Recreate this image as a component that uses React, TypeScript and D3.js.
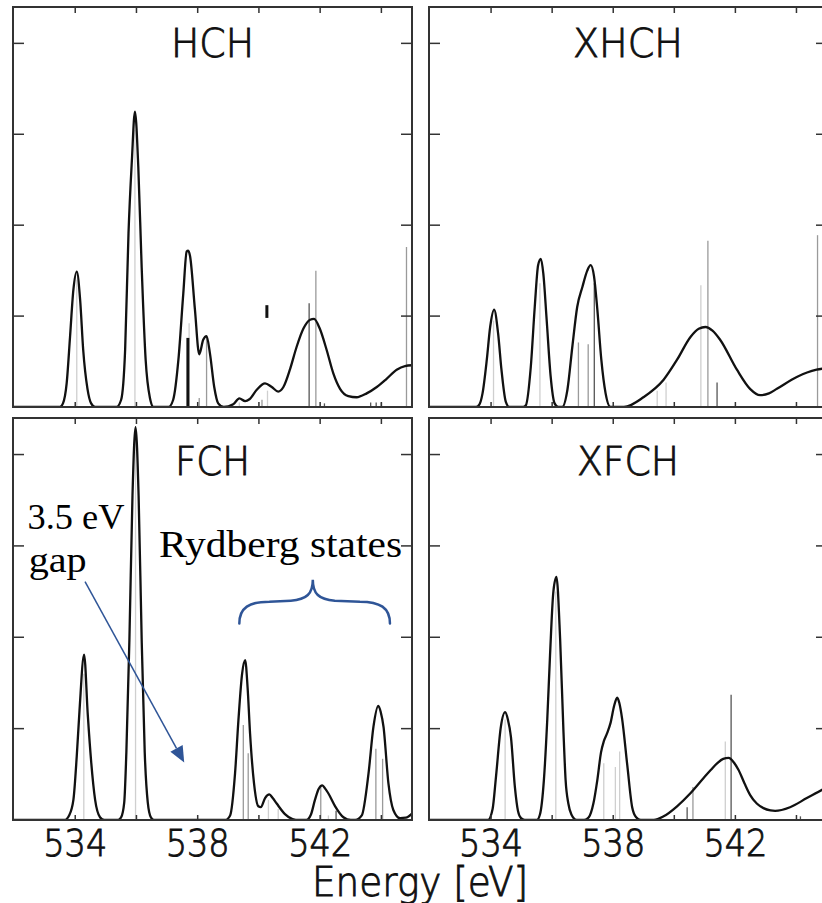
import React from 'react';
import * as d3 from 'd3';

// ---------- data ----------
const ENERGY_TICKS = [534, 536, 538, 540, 542, 544];
const ENERGY_LABELS = [534, 538, 542];
const INTENSITY_TICKS = [1, 2, 3, 4];
const PANEL_TITLES = ['HCH', 'XHCH', 'FCH', 'XFCH'];
const X_LABEL = 'Energy [eV]';

type Pt = [number, number];
type Stick = [number, number, string];

const HCH_CURVE: Pt[] = [
  [532.0, 0], [533.5, 0], [533.6, 0.04], [533.72, 0.26], [533.83, 0.77], [533.94, 1.29], [534.05, 1.49],
  [534.16, 1.18], [534.26, 0.63], [534.4, 0.2], [534.52, 0.04], [534.65, 0],
  [535.35, 0], [535.5, 0.08], [535.63, 0.63], [535.74, 1.91], [535.85, 2.71], [535.95, 3.25],
  [536.06, 2.64], [536.17, 1.54], [536.3, 0.52], [536.44, 0.1], [536.56, 0],
  [537.05, 0], [537.2, 0.08], [537.37, 0.52], [537.53, 1.25], [537.64, 1.71], [537.69, 1.72], [537.75, 1.66],
  [537.91, 1.07], [538.05, 0.58], [538.18, 0.74], [538.29, 0.78], [538.4, 0.59], [538.54, 0.22], [538.67, 0.04],
  [538.85, 0], [539.16, 0.03], [539.36, 0.095], [539.55, 0.065], [539.69, 0.085], [539.93, 0.19], [540.2, 0.26],
  [540.42, 0.22], [540.63, 0.17], [540.8, 0.22], [541.02, 0.42], [541.23, 0.66], [541.45, 0.86], [541.67, 0.96],
  [541.8, 0.97], [541.99, 0.86], [542.21, 0.63], [542.43, 0.37], [542.65, 0.2], [542.92, 0.12], [543.19, 0.107],
  [543.52, 0.15], [543.85, 0.22], [544.17, 0.31], [544.5, 0.41], [544.77, 0.45], [545.05, 0.46],
];
const HCH_STICKS: Stick[] = [
  [534.05, 1.4, 'light'], [535.95, 3.05, 'light'], [537.72, 0.92, 'light'], [537.68, 0.76, 'thick'],
  [538.05, 0.1, 'mid'], [538.29, 0.77, 'mid'], [539.36, 0.05, 'light'], [540.1, 0.08, 'mid'],
  [540.28, 0.18, 'light'], [541.64, 1.14, 'dark'], [541.86, 1.5, 'mid'], [542.14, 0.04, 'dark'],
  [543.65, 0.05, 'dark'], [543.83, 0.05, 'dark'], [544.0, 0.05, 'dark'], [544.82, 1.76, 'mid'],
];
const HCH_MARKS: [number, number, number][] = [[540.26, 0.98, 1.12]];

const XHCH_CURVE: Pt[] = [
  [532.0, 0], [533.5, 0], [533.62, 0.03], [533.72, 0.15], [533.86, 0.52], [533.97, 0.88], [534.1, 1.07],
  [534.23, 0.81], [534.34, 0.41], [534.48, 0.06], [534.6, 0],
  [535.05, 0], [535.14, 0.02], [535.3, 0.44], [535.43, 1.1], [535.54, 1.56], [535.63, 1.63], [535.71, 1.47],
  [535.82, 0.96], [535.95, 0.34], [536.08, 0.04], [536.2, 0],
  [536.33, 0], [536.5, 0.19], [536.66, 0.66], [536.82, 1.1], [536.99, 1.32], [537.15, 1.5], [537.26, 1.56],
  [537.37, 1.44], [537.48, 1.07], [537.61, 0.52], [537.75, 0.15], [537.91, 0],
  [538.35, 0], [539.0, 0.11], [539.65, 0.3], [540.09, 0.52], [540.53, 0.77], [540.8, 0.86], [541.02, 0.88],
  [541.25, 0.84], [541.5, 0.74], [542.05, 0.41], [542.48, 0.2], [542.81, 0.13], [543.1, 0.15], [543.36, 0.2],
  [544.01, 0.33], [544.66, 0.41], [545.05, 0.43],
];
const XHCH_STICKS: Stick[] = [
  [534.08, 0.95, 'light'], [535.6, 1.36, 'light'], [536.86, 0.71, 'mid'], [537.18, 0.69, 'mid'],
  [537.38, 1.36, 'dark'], [539.44, 0.18, 'light'], [539.73, 0.27, 'light'], [540.87, 1.34, 'light'],
  [541.1, 1.83, 'mid'], [541.4, 0.27, 'dark'], [544.69, 1.89, 'mid'],
];

const FCH_CURVE: Pt[] = [
  [532.0, 0], [533.65, 0], [533.8, 0.05], [533.94, 0.22], [534.05, 0.7], [534.14, 1.2], [534.29, 1.81],
  [534.41, 1.15], [534.52, 0.64], [534.65, 0.22], [534.81, 0.03], [534.95, 0],
  [535.4, 0], [535.5, 0.03], [535.6, 0.19], [535.67, 0.74], [535.77, 1.98], [535.87, 3.55], [535.97, 4.3],
  [536.07, 3.55], [536.17, 1.98], [536.27, 0.74], [536.37, 0.19], [536.47, 0.03], [536.57, 0],
  [538.9, 0], [539.06, 0.05], [539.22, 0.51], [539.33, 1.09], [539.45, 1.6], [539.55, 1.75], [539.63, 1.45],
  [539.71, 0.95], [539.84, 0.4], [539.98, 0.15], [540.06, 0.14], [540.2, 0.24], [540.34, 0.28], [540.45, 0.24],
  [540.58, 0.18], [540.85, 0.065], [541.1, 0.01], [541.3, 0],
  [541.55, 0], [541.7, 0.06], [541.83, 0.22], [541.95, 0.34], [542.07, 0.38], [542.17, 0.34], [542.27, 0.29],
  [542.49, 0.15], [542.76, 0.03], [543.0, 0],
  [543.15, 0], [543.36, 0.05], [543.58, 0.51], [543.74, 1.02], [543.9, 1.25], [543.98, 1.18], [544.07, 1.02],
  [544.23, 0.4], [544.39, 0.11], [544.61, 0.02], [544.8, 0.025], [545.0, 0.07],
];
const FCH_STICKS: Stick[] = [
  [534.28, 1.6, 'light'], [535.97, 4.2, 'light'], [539.49, 1.04, 'mid'], [539.65, 0.73, 'mid'],
  [540.31, 0.22, 'light'], [540.63, 0.12, 'light'], [542.02, 0.36, 'mid'], [542.27, 0.05, 'light'],
  [542.52, 0.1, 'dark'], [543.82, 0.78, 'mid'], [544.04, 0.67, 'mid'],
];

const XFCH_CURVE: Pt[] = [
  [532.0, 0], [533.9, 0], [534.05, 0.12], [534.16, 0.47], [534.32, 1.02], [534.46, 1.18], [534.55, 1.1],
  [534.65, 0.91], [534.78, 0.36], [534.88, 0.1], [534.98, 0.02], [535.1, 0],
  [535.5, 0], [535.6, 0.06], [535.73, 0.44], [535.84, 1.1], [535.93, 1.8], [536.04, 2.5], [536.14, 2.66],
  [536.26, 1.99], [536.37, 0.97], [536.44, 0.44], [536.53, 0.18], [536.63, 0.06], [536.8, 0],
  [537.05, 0], [537.2, 0.03], [537.35, 0.18], [537.48, 0.44], [537.6, 0.74], [537.69, 0.86], [537.8, 0.95],
  [537.91, 1.06], [538.03, 1.25], [538.13, 1.34], [538.2, 1.28], [538.29, 1.11], [538.46, 0.6], [538.62, 0.14],
  [538.75, 0.03], [538.9, 0],
  [539.33, 0], [539.65, 0.04], [540.09, 0.15], [540.52, 0.29], [540.96, 0.46], [541.2, 0.55], [541.4, 0.62],
  [541.6, 0.67], [541.78, 0.68], [541.95, 0.63], [542.1, 0.55], [542.3, 0.4], [542.49, 0.27], [542.7, 0.18],
  [542.92, 0.13], [543.15, 0.105], [543.3, 0.1], [543.79, 0.14], [544.34, 0.24], [544.84, 0.33], [545.05, 0.37],
];
const XFCH_STICKS: Stick[] = [
  [534.46, 1.1, 'light'], [536.12, 2.5, 'light'], [537.69, 0.62, 'light'], [538.07, 0.58, 'light'],
  [538.21, 0.75, 'light'], [540.42, 0.14, 'dark'], [540.61, 0.36, 'mid'], [541.67, 0.86, 'light'],
  [541.86, 1.37, 'dark'], [544.13, 0.04, 'dark'],
];

// annotations in FCH data coordinates
const GAP_TEXT = ['3.5 eV', 'gap'];
const GAP_TEXT_POS: Pt[] = [[532.44, 3.19], [532.48, 2.71]];
const GAP_ARROW: Pt[] = [[534.32, 2.61], [537.56, 0.63]];
const RYD_TEXT = 'Rydberg states';
const RYD_TEXT_POS: Pt = [536.74, 2.88];
const BRACE: { left: Pt; tip: Pt; right: Pt; arm: number } = {
  left: [539.36, 2.15], tip: [541.76, 2.63], right: [544.28, 2.15], arm: 2.39,
};

const CURVES = [HCH_CURVE, XHCH_CURVE, FCH_CURVE, XFCH_CURVE];
const STICKS = [HCH_STICKS, XHCH_STICKS, FCH_STICKS, XFCH_STICKS];

// ---------- styling ----------
const SHADE: Record<string, { c: string; w: number }> = {
  light: { c: '#cfcfcf', w: 1.3 },
  mid: { c: '#9a9a9a', w: 1.3 },
  dark: { c: '#555', w: 1.3 },
  thick: { c: '#111', w: 3 },
};
const BLUE = '#2F5597';
const SERIF = "'Liberation Serif', 'Times New Roman', serif";
const SANS = "'DejaVu Sans', sans-serif";
const THIN_TEXT = { fontFamily: SANS, fontWeight: 300, fill: '#111', stroke: '#111', strokeWidth: 0.9 };

export default function App() {
  const W = 822, H = 903;
  const cols = [{ x0: 13, x1: 412 }, { x0: 429, x1: 827 }];
  const rows = [{ y0: 7, y1: 407 }, { y0: 418, y1: 820 }];

  const panels = PANEL_TITLES.map((title, i) => {
    const col = cols[i % 2];
    const row = rows[Math.floor(i / 2)];
    const x = d3.scaleLinear().domain([532, 545]).range([col.x0 + 1, col.x1]);
    const y = d3.scaleLinear().domain([0, 4.4]).range([row.y1, row.y0]);
    return { title, i, col, row, x, y, curve: CURVES[i], sticks: STICKS[i] };
  });

  const fch = panels[2];
  const ax = fch.x, ay = fch.y;

  // arrow geometry
  const [a0, a1] = GAP_ARROW;
  const tx = ax(a1[0]), ty = ay(a1[1]);
  const sx = ax(a0[0]), sy = ay(a0[1]);
  const len = Math.hypot(tx - sx, ty - sy);
  const ux = (tx - sx) / len, uy = (ty - sy) / len;
  const headL = 16, headW = 7;
  const bx = tx - ux * headL, by = ty - uy * headL;
  const arrowHead = [
    [tx, ty],
    [bx - uy * headW, by + ux * headW],
    [bx + uy * headW, by - ux * headW],
  ].map((p) => p.join(',')).join(' ');

  const bl = [ax(BRACE.left[0]), ay(BRACE.left[1])];
  const bt = [ax(BRACE.tip[0]), ay(BRACE.tip[1])];
  const br = [ax(BRACE.right[0]), ay(BRACE.right[1])];
  const arm = ay(BRACE.arm);
  const bracePath = `M${bl[0]},${bl[1]} C${bl[0]},${arm + 6} ${bl[0] + 10},${arm} ${bl[0] + 30},${arm}` +
    ` L${bt[0] - 22},${arm - 1} C${bt[0] - 6},${arm - 2} ${bt[0]},${arm - 8} ${bt[0]},${bt[1]}` +
    ` C${bt[0]},${arm - 8} ${bt[0] + 6},${arm - 2} ${bt[0] + 22},${arm - 1}` +
    ` L${br[0] - 30},${arm} C${br[0] - 10},${arm} ${br[0]},${arm + 6} ${br[0]},${br[1]}`;

  return (
    <svg width={W} height={H} viewBox={`0 0 ${W} ${H}`}
      style={{ position: 'absolute', left: 0, top: 0, background: '#fff' }}>
      <rect x={0} y={0} width={W} height={H} fill="#fff" />
      <defs>
        {panels.map((p) => (
          <clipPath id={`clip${p.i}`} key={p.i}>
            <rect x={p.col.x0} y={p.row.y0} width={p.col.x1 - p.col.x0} height={p.row.y1 - p.row.y0} />
          </clipPath>
        ))}
      </defs>
      {panels.map((p) => {
        const line = d3.line<Pt>().x((d) => p.x(d[0])).y((d) => p.y(d[1])).curve(d3.curveMonotoneX);
        const cx = (p.col.x0 + p.col.x1) / 2;
        return (
          <g key={p.i}>
            <g clipPath={`url(#clip${p.i})`}>
              {p.sticks.map((s, k) => (
                <line key={k} x1={p.x(s[0])} x2={p.x(s[0])} y1={p.y(0)} y2={p.y(s[1])}
                  stroke={SHADE[s[2]].c} strokeWidth={SHADE[s[2]].w} />
              ))}
              {p.i === 0 && HCH_MARKS.map((m, k) => (
                <line key={k} x1={p.x(m[0])} x2={p.x(m[0])} y1={p.y(m[1])} y2={p.y(m[2])}
                  stroke="#111" strokeWidth={3} />
              ))}
              <path d={line(p.curve) || ''} fill="none" stroke="#111" strokeWidth={2.3}
                strokeLinejoin="round" />
              {ENERGY_TICKS.map((t) => (
                <g key={t}>
                  <line x1={p.x(t)} x2={p.x(t)} y1={p.row.y0} y2={p.row.y0 + 6} stroke="#333" strokeWidth={1.5} />
                  <line x1={p.x(t)} x2={p.x(t)} y1={p.row.y1} y2={p.row.y1 - 5} stroke="#333" strokeWidth={1.5} />
                </g>
              ))}
              {INTENSITY_TICKS.map((t) => (
                <g key={t}>
                  <line x1={p.col.x0} x2={p.col.x0 + 11} y1={p.y(t)} y2={p.y(t)} stroke="#333" strokeWidth={1.5} />
                  <line x1={p.col.x1} x2={p.col.x1 - 11} y1={p.y(t)} y2={p.y(t)} stroke="#333" strokeWidth={1.5} />
                </g>
              ))}
            </g>
            <rect x={p.col.x0} y={p.row.y0} width={p.col.x1 - p.col.x0} height={p.row.y1 - p.row.y0}
              fill="none" stroke="#333" strokeWidth={2} />
            <text x={cx} y={p.row.y0 + (p.i < 2 ? 50 : 56.5)} textAnchor="middle" {...THIN_TEXT} fontSize={39}
              textLength={[83, 110, 75, 102][p.i]} lengthAdjust="spacingAndGlyphs">{p.title}</text>
            {p.i >= 2 && ENERGY_LABELS.map((t) => (
              <text key={t} x={p.x(t)} y={856} textAnchor="middle" {...THIN_TEXT} fontSize={37}
                textLength={64} lengthAdjust="spacingAndGlyphs">{t}</text>
            ))}
          </g>
        );
      })}
      <text x={420} y={896} textAnchor="middle" {...THIN_TEXT} fontSize={40}
        textLength={216} lengthAdjust="spacingAndGlyphs">{X_LABEL}</text>

      {/* annotations */}
      {GAP_TEXT.map((t, k) => (
        <text key={t} x={ax(GAP_TEXT_POS[k][0])} y={ay(GAP_TEXT_POS[k][1])}
          fontFamily={SERIF} fontSize={35} fill="#000"
          textLength={k === 0 ? 97 : 58} lengthAdjust="spacingAndGlyphs">{t}</text>
      ))}
      <line x1={sx} y1={sy} x2={bx} y2={by} stroke={BLUE} strokeWidth={1.5} />
      <polygon points={arrowHead} fill={BLUE} />
      <text x={ax(RYD_TEXT_POS[0])} y={ay(RYD_TEXT_POS[1])}
        fontFamily={SERIF} fontSize={37} fill="#000"
        textLength={243} lengthAdjust="spacingAndGlyphs">{RYD_TEXT}</text>
      <path d={bracePath} fill="none" stroke={BLUE} strokeWidth={2.5} strokeLinecap="round" />
    </svg>
  );
}
